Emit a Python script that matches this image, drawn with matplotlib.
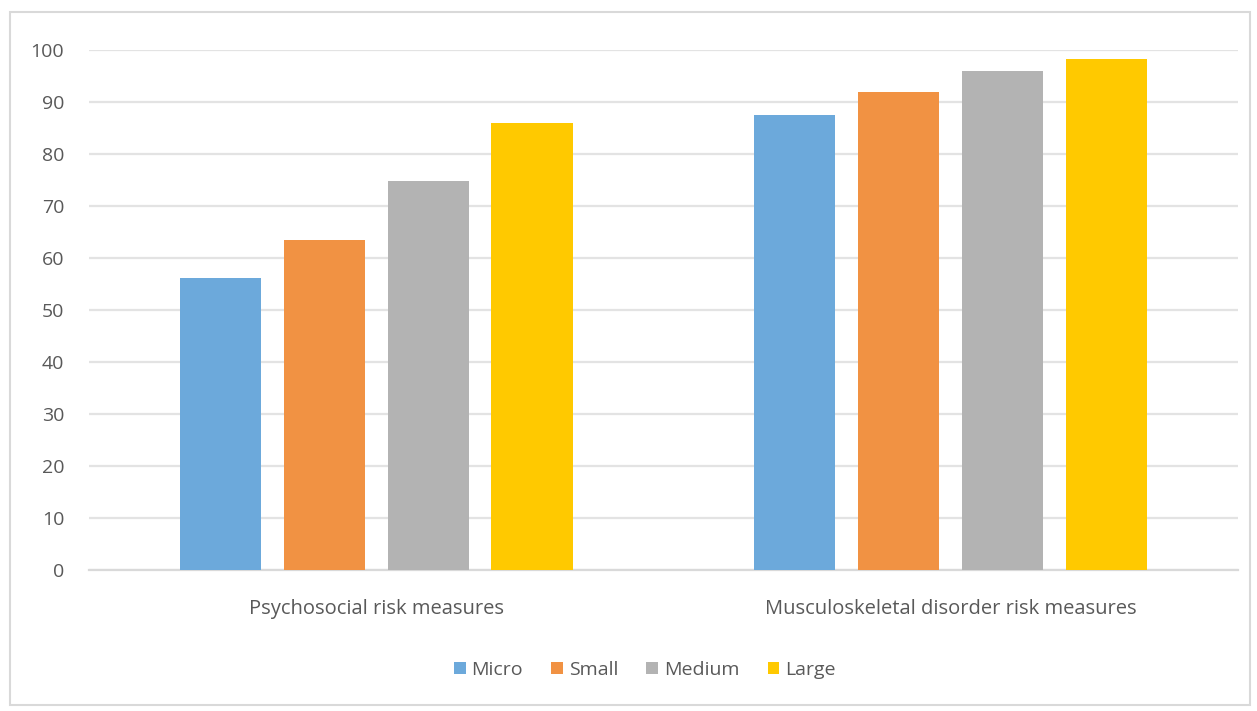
import matplotlib
matplotlib.use("Agg")
import matplotlib.pyplot as plt
from matplotlib.patches import Rectangle
import numpy as np

categories = ["Psychosocial risk measures", "Musculoskeletal disorder risk measures"]
series = ["Micro", "Small", "Medium", "Large"]
micro = [56.2, 87.5]
small = [63.5, 91.9]
medium = [74.8, 95.9]
large = [85.9, 98.3]
colors = ["#6CA9DB", "#F19243", "#B3B3B3", "#FFC900"]
yticks = list(range(0, 101, 10))

plt.rcParams['font.family'] = ['Open Sans', 'DejaVu Sans']

fig = plt.figure(figsize=(12.57, 7.11), dpi=100)
ax = fig.add_axes([0.071, 0.1983, 0.9135, 0.7314])

x = np.arange(len(categories))
width = 0.142
step = 0.181
values = [micro, small, medium, large]
for i, (name, vals, c) in enumerate(zip(series, values, colors)):
    ax.bar(x + (i - 1.5) * step, vals, width, color=c, label=name, zorder=3)

ax.set_xlim(-0.5, 1.5)
ax.set_ylim(0, 100)
ax.set_yticks(yticks)
ax.yaxis.grid(True, color="#E3E3E3", linewidth=1.6, zorder=0)
ax.set_axisbelow(True)
for s in ["top", "right", "left"]:
    ax.spines[s].set_visible(False)
ax.spines["bottom"].set_color("#D9D9D9")
ax.spines["bottom"].set_linewidth(1.6)
ax.tick_params(axis="y", length=0, pad=18, labelsize=14, labelcolor="#595959")
ax.tick_params(axis="x", length=0, pad=21, labelsize=14.5, labelcolor="#595959")
ax.set_xticks(x)
ax.set_xticklabels(categories)

leg = fig.legend(loc="center", bbox_to_anchor=(0.513, 0.058), ncol=4, frameon=False,
                 fontsize=14, handlelength=0.6, handleheight=0.6, handletextpad=0.3,
                 columnspacing=1.45)
for t in leg.get_texts():
    t.set_color("#595959")

fig.patches.append(Rectangle((10/1257, 6/711), 1240/1257, 693/711, transform=fig.transFigure,
                             fill=False, edgecolor="#D9D9D9", linewidth=1.5))

fig.savefig("out.png", dpi=100)
